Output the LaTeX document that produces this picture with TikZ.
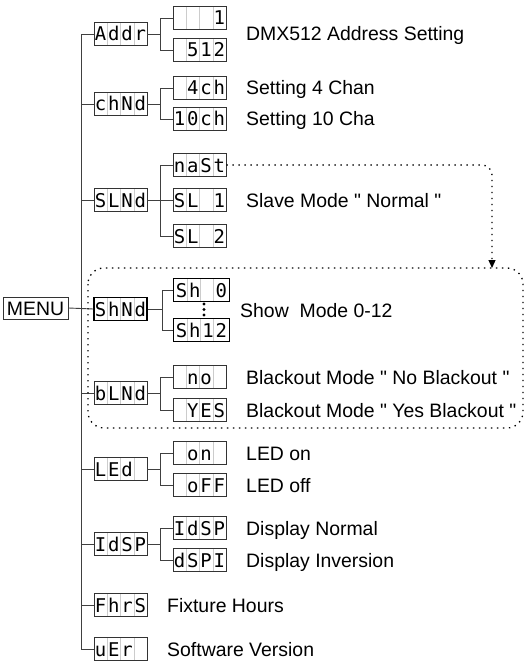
\documentclass[tikz,border=0pt]{standalone}
\usepackage{fontspec}
\setmainfont{Liberation Sans}
\newfontfamily\lcdfont{DejaVu Sans Mono}
\usetikzlibrary{arrows.meta}

\newlength\cellW
\setlength\cellW{13.25bp}
\newcommand{\lcdText}[4]{\makebox[\cellW]{#1}\makebox[\cellW]{#2}\makebox[\cellW]{#3}\makebox[\cellW]{#4}}

\begin{document}
\begin{tikzpicture} [x=1bp,y=-1bp,
	lcd/.style={shape=rectangle,minimum width=53bp,minimum height=23bp,inner sep=0pt,draw=black!80,line width=0.8bp,
		font=\lcdfont\fontsize{19}{19}\selectfont,text height=14bp,text depth=0pt,
		path picture={\foreach \k in {1,2,3} \draw[black!20,line width=0.5bp] ([xshift=\k*13.25bp]path picture bounding box.south west) -- ([xshift=\k*13.25bp]path picture bounding box.north west);}},
	lcdBold/.style={lcd,draw=black,line width=1.2bp},
	menuBox/.style={shape=rectangle,minimum width=65bp,minimum height=22bp,inner sep=0pt,draw=black!80,line width=0.8bp,
		font=\fontsize{19.5}{20}\selectfont,text height=14bp,text depth=0pt},
	descText/.style={anchor=west,inner sep=0pt,font=\fontsize{19.5}{20}\selectfont,text height=14bp,text depth=0pt},
	treeLine/.style={draw=black!75,line width=0.9bp},
	dotFrame/.style={draw=black,line width=1.3bp,dash pattern=on 1.4bp off 4.6bp}]
	\useasboundingbox (0,0) rectangle (526,662);

	\node (menuNode) at (35.5,308)[menuBox] {MENU};

	\node (addrNode) at (120.5,34)[lcd] {\lcdText{A}{d}{d}{r}};
	\node (chndNode) at (120.5,104)[lcd] {\lcdText{c}{h}{N}{d}};
	\node (slndNode) at (120.5,200)[lcd] {\lcdText{S}{L}{N}{d}};
	\node (shndNode) at (120.5,309)[lcdBold] {\lcdText{S}{h}{N}{d}};
	\node (blndNode) at (120.5,393)[lcd] {\lcdText{b}{L}{N}{d}};
	\node (ledNode) at (120.5,469)[lcd] {\lcdText{L}{E}{d}{}};
	\node (dispNode) at (120.5,544)[lcd] {\lcdText{I}{d}{S}{P}};
	\node (fhrsNode) at (120.5,605)[lcd] {\lcdText{F}{h}{r}{S}};
	\node (verNode) at (120.5,649)[lcd] {\lcdText{u}{E}{r}{}};

	\node (addrLow) at (199.5,18)[lcd] {\lcdText{}{}{}{1}};
	\node (addrHigh) at (199.5,50)[lcd] {\lcdText{}{5}{1}{2}};
	\node (chanFour) at (199.5,88)[lcd] {\lcdText{}{4}{c}{h}};
	\node (chanTen) at (199.5,119)[lcd] {\lcdText{1}{0}{c}{h}};
	\node (mastNode) at (199.5,165)[lcd] {\lcdText{n}{a}{S}{t}};
	\node (slaveOne) at (199.5,200)[lcd] {\lcdText{S}{L}{}{1}};
	\node (slaveTwo) at (199.5,236)[lcd] {\lcdText{S}{L}{}{2}};
	\node (showZero) at (201.5,290)[lcdBold,minimum width=56bp] {\lcdText{S}{h}{}{0}};
	\node (showTwelve) at (201.5,330)[lcdBold,minimum width=56bp] {\lcdText{S}{h}{1}{2}};
	\node (blackNo) at (199.5,377)[lcd] {\lcdText{}{n}{o}{}};
	\node (blackYes) at (199.5,410)[lcd] {\lcdText{}{Y}{E}{S}};
	\node (ledOn) at (199.5,453)[lcd] {\lcdText{}{o}{n}{}};
	\node (ledOff) at (199.5,485)[lcd] {\lcdText{}{o}{F}{F}};
	\node (dispNorm) at (199.5,528)[lcd] {\lcdText{I}{d}{S}{P}};
	\node (dispInv) at (199.5,560)[lcd] {\lcdText{d}{S}{P}{I}};

	\foreach \y in {304,309.5,315}
		\fill (204,\y) circle (1.6bp);

	\node (addrText) at (246,34)[descText] {DMX512 Address Setting};
	\node (chanFourText) at (246,88)[descText] {Setting 4 Chan};
	\node (chanTenText) at (246,119)[descText] {Setting 10 Cha};
	\node (slaveText) at (246,200)[descText] {Slave Mode \textquotedbl\ Normal \textquotedbl};
	\node (showText) at (240,310)[descText] {Show\ \ Mode 0-12};
	\node (blackNoText) at (246,377)[descText] {Blackout Mode \textquotedbl\ No Blackout \textquotedbl};
	\node (blackYesText) at (246,410)[descText] {Blackout Mode \textquotedbl\ Yes Blackout \textquotedbl};
	\node (ledOnText) at (246,453)[descText] {LED on};
	\node (ledOffText) at (246,485)[descText] {LED off};
	\node (dispNormText) at (246,528)[descText] {Display Normal};
	\node (dispInvText) at (246,560)[descText] {Display Inversion};
	\node (fhrsText) at (167,605)[descText] {Fixture Hours};
	\node (verText) at (167,649)[descText] {Software Version};

	\coordinate (trunkEnd) at (81,649);
	\draw[treeLine] (addrNode.west) -| (trunkEnd) -- (verNode.west);
	\foreach \n in {chndNode,slndNode,blndNode,ledNode,dispNode,fhrsNode}
		\draw[treeLine] (\n.west) -- (\n.west -| trunkEnd);
	\draw[treeLine] (menuNode.east) -- (shndNode.west);

	\draw[treeLine] (addrNode.east) -- ++(13,0) |- (addrLow.west);
	\draw[treeLine] (addrNode.east) -- ++(13,0) |- (addrHigh.west);
	\draw[treeLine] (chndNode.east) -- ++(13,0) |- (chanFour.west);
	\draw[treeLine] (chndNode.east) -- ++(13,0) |- (chanTen.west);
	\draw[treeLine] (slndNode.east) -- (slaveOne.west);
	\draw[treeLine] (slndNode.east) -- ++(13,0) |- (mastNode.west);
	\draw[treeLine] (slndNode.east) -- ++(13,0) |- (slaveTwo.west);
	\draw[treeLine] (shndNode.east) -- ++(15,0) |- (showZero.west);
	\draw[treeLine] (shndNode.east) -- ++(15,0) |- (showTwelve.west);
	\draw[treeLine] (blndNode.east) -- ++(13,0) |- (blackNo.west);
	\draw[treeLine] (blndNode.east) -- ++(13,0) |- (blackYes.west);
	\draw[treeLine] (ledNode.east) -- ++(13,0) |- (ledOn.west);
	\draw[treeLine] (ledNode.east) -- ++(13,0) |- (ledOff.west);
	\draw[treeLine] (dispNode.east) -- ++(13,0) |- (dispNorm.west);
	\draw[treeLine] (dispNode.east) -- ++(13,0) |- (dispInv.west);

	\draw[dotFrame,rounded corners=16bp] (88,268) rectangle (523,428);
	\coordinate (showTop) at (492,268);
	\draw[dotFrame,rounded corners=10bp,-{Triangle[length=8bp,width=7bp]}] (mastNode.east) -| (showTop);
\end{tikzpicture}
\end{document}
